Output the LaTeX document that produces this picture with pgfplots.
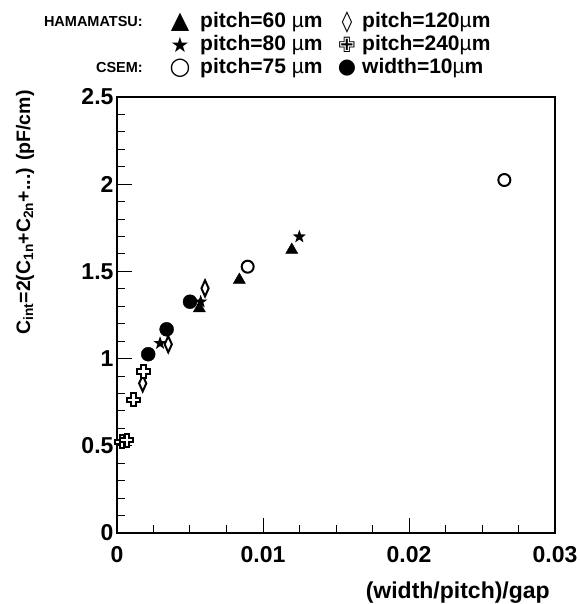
\documentclass[border=0pt]{standalone}
\usepackage{fontspec}
\setmainfont{Liberation Sans}
\newfontfamily\dejavu{DejaVu Sans}
\usepackage{pgfplots}
\pgfplotsset{compat=1.18}
\pgfdeclareplotmark{fstar}{%
  \pgfpathmoveto{\pgfpointpolar{90}{\pgfplotmarksize}}%
  \pgfpathlineto{\pgfpointpolar{126}{0.4\pgfplotmarksize}}%
  \pgfpathlineto{\pgfpointpolar{162}{\pgfplotmarksize}}%
  \pgfpathlineto{\pgfpointpolar{198}{0.4\pgfplotmarksize}}%
  \pgfpathlineto{\pgfpointpolar{234}{\pgfplotmarksize}}%
  \pgfpathlineto{\pgfpointpolar{270}{0.4\pgfplotmarksize}}%
  \pgfpathlineto{\pgfpointpolar{306}{\pgfplotmarksize}}%
  \pgfpathlineto{\pgfpointpolar{342}{0.4\pgfplotmarksize}}%
  \pgfpathlineto{\pgfpointpolar{18}{\pgfplotmarksize}}%
  \pgfpathlineto{\pgfpointpolar{54}{0.4\pgfplotmarksize}}%
  \pgfpathclose\pgfusepathqfill}
\pgfdeclareplotmark{ocross}{%
  \pgfpathmoveto{\pgfpoint{-0.36\pgfplotmarksize}{\pgfplotmarksize}}%
  \pgfpathlineto{\pgfpoint{0.36\pgfplotmarksize}{\pgfplotmarksize}}%
  \pgfpathlineto{\pgfpoint{0.36\pgfplotmarksize}{0.36\pgfplotmarksize}}%
  \pgfpathlineto{\pgfpoint{\pgfplotmarksize}{0.36\pgfplotmarksize}}%
  \pgfpathlineto{\pgfpoint{\pgfplotmarksize}{-0.36\pgfplotmarksize}}%
  \pgfpathlineto{\pgfpoint{0.36\pgfplotmarksize}{-0.36\pgfplotmarksize}}%
  \pgfpathlineto{\pgfpoint{0.36\pgfplotmarksize}{-\pgfplotmarksize}}%
  \pgfpathlineto{\pgfpoint{-0.36\pgfplotmarksize}{-\pgfplotmarksize}}%
  \pgfpathlineto{\pgfpoint{-0.36\pgfplotmarksize}{-0.36\pgfplotmarksize}}%
  \pgfpathlineto{\pgfpoint{-\pgfplotmarksize}{-0.36\pgfplotmarksize}}%
  \pgfpathlineto{\pgfpoint{-\pgfplotmarksize}{0.36\pgfplotmarksize}}%
  \pgfpathlineto{\pgfpoint{-0.36\pgfplotmarksize}{0.36\pgfplotmarksize}}%
  \pgfpathclose\pgfusepathqfillstroke}
\begin{document}
\begin{tikzpicture}[x=1pt,y=1pt]
\path[use as bounding box] (-117,-71) rectangle (462,533);
\begin{axis}[at={(0,0)}, anchor=south west,
  width=438pt, height=436pt, scale only axis, clip=false,
  xmin=0, xmax=0.03, ymin=0, ymax=2.5,
  axis line style={line width=2.5pt},
  tick style={line width=1pt, black},
  major tick length=15pt, minor tick length=8pt,
  tick align=inside, xtick pos=left, ytick pos=left,
  xtick={0,0.01,0.02,0.03}, xticklabels={0,0.01,0.02,0.03},
  ytick={0,0.5,1,1.5,2,2.5}, yticklabels={0,0.5,1,1.5,2,2.5},
  minor x tick num=3, minor y tick num=4, scaled x ticks=false,
  tick label style={font=\fontsize{23}{24}\selectfont\bfseries},
  xticklabel style={yshift=-10pt},
  xlabel={(width/pitch)/gap},
  xlabel style={font=\fontsize{23}{24}\selectfont\bfseries, at={(axis description cs:0.778,-0.136)}, anchor=center},
  ylabel={C\textsubscript{int}=2(C\textsubscript{1n}+C\textsubscript{2n}+...) (pF/cm)},
  ylabel style={font=\fontsize{19.5}{20}\selectfont\bfseries, at={(axis description cs:-0.21,0.735)}, anchor=center},
  ]
% pitch=60 (triangles)
\addplot[only marks, mark=triangle*, mark size=7pt, black] coordinates {(0.00564,1.288) (0.00838,1.451) (0.01197,1.623)};
% pitch=80 (stars)
\addplot[only marks, mark=fstar, mark size=7pt, black] coordinates {(0.00295,1.088) (0.00573,1.326) (0.01249,1.699)};
% pitch=120 (diamonds)
\addplot[only marks, mark=diamond, mark size=8pt, black, mark options={xscale=0.6, line width=2pt, fill=white}] coordinates {(0.00176,0.858) (0.00351,1.082) (0.00603,1.403)};
% pitch=240 (crosses)
\addplot[only marks, mark=ocross, mark size=6.5pt, black, mark options={line width=2pt, fill=white}] coordinates {(0.00034,0.522) (0.00068,0.533) (0.00112,0.763) (0.0018,0.925)};
% CSEM pitch=75 (open circles)
\addplot[only marks, mark=o, mark size=6pt, black, mark options={line width=2pt}] coordinates {(0.00895,1.527) (0.02653,2.024)};
% CSEM width=10 (filled circles)
\addplot[only marks, mark=*, mark size=7pt, black] coordinates {(0.00214,1.025) (0.0034,1.168) (0.005,1.326)};
\end{axis}
\begin{scope}[every node/.style={inner sep=0pt, font=\fontsize{21}{22}\selectfont\bfseries}]
\node[anchor=east, font=\fontsize{14.5}{16}\selectfont\bfseries] at (26,511) {HAMAMATSU:};
\node[anchor=east, font=\fontsize{14.5}{16}\selectfont\bfseries] at (26,465) {CSEM:};
\node at (63,511) {\dejavu\fontsize{24}{24}\selectfont ▲};
\node[anchor=west] at (83,511) {pitch=60 {\mdseries µ}m};
\node at (63,488) {\dejavu ★};
\node[anchor=west] at (83,488) {pitch=80 {\mdseries µ}m};
\node at (63,465) {\dejavu\bfseries\fontsize{24}{24}\selectfont ○};
\node[anchor=west] at (83,465) {pitch=75 {\mdseries µ}m};
\node at (230,511) {\dejavu\bfseries ◊};
\node[anchor=west] at (245,511) {pitch=120{\mdseries µ}m};
\node at (230,488) {\dejavu ✙};
\node[anchor=west] at (245,488) {pitch=240{\mdseries µ}m};
\node at (230,465) {\dejavu ●};
\node[anchor=west] at (245,465) {width=10{\mdseries µ}m};
\end{scope}
\end{tikzpicture}
\end{document}
